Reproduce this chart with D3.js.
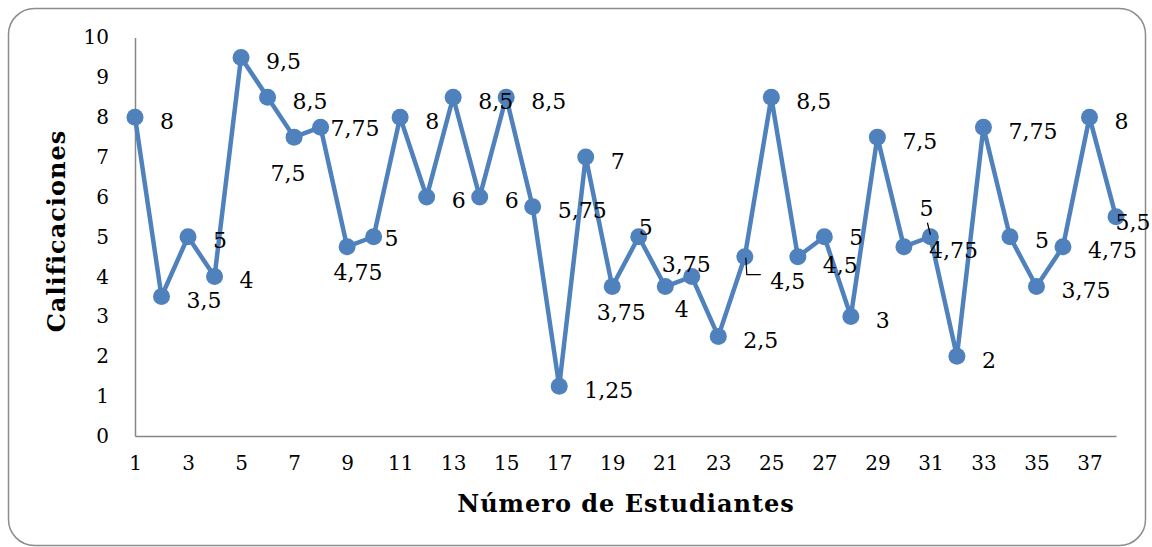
<!DOCTYPE html>
<html>
<head>
<meta charset="utf-8">
<script src="https://cdn.jsdelivr.net/npm/d3@7/dist/d3.min.js"></script>
<style>
  html, body { margin: 0; padding: 0; background: #fff; }
  svg { display: block; }
</style>
</head>
<body>
<svg id="chart" width="1152" height="547"></svg>
<script>
// ---- data ----
const students = d3.range(1, 39);
const grades = [8, 3.5, 5, 4, 9.5, 8.5, 7.5, 7.75, 4.75, 5,
                8, 6, 8.5, 6, 8.5, 5.75, 1.25, 7, 3.75, 5,
                3.75, 4, 2.5, 4.5, 8.5, 4.5, 5, 3, 7.5, 4.75,
                5, 2, 7.75, 5, 3.75, 4.75, 8, 5.5];
const yTicks = [0, 1, 2, 3, 4, 5, 6, 7, 8, 9, 10];
const xTickLabels = students.filter(d => d % 2 === 1);
const xTitle = "Número de Estudiantes";
const yTitle = "Calificaciones";

// ---- label placement (layout, not data): index -> custom placement ----
const labelCustom = {
  7:  {anchor: "middle", dx: -6, dy: 36},
  8:  {anchor: "start",  dx: 10, dy: 1},
  9:  {anchor: "middle", dx: 11, dy: 26},
  10: {anchor: "start",  dx: 11, dy: 2},
  19: {anchor: "middle", dx: 9,  dy: 26},
  20: {anchor: "middle", dx: 7,  dy: -9},
  21: {anchor: "middle", dx: 21, dy: -22},
  22: {anchor: "middle", dx: -10, dy: 33},
  24: {anchor: "middle", dx: 43, dy: 25, leader: [[1, 1], [2, 18], [16, 18]]},
  26: {anchor: "start",  dx: 25, dy: 9},
  27: {anchor: "start",  dx: 25, dy: 1},
  31: {anchor: "middle", dx: -4, dy: -28, leader: [[-3, -14], [0, -2]]},
  38: {anchor: "middle", dx: 17, dy: 6}
};

const FONT = "'DejaVu Serif', 'Liberation Serif', serif";
const svg = d3.select("#chart");

// frame
svg.append("rect")
  .attr("x", 8.5).attr("y", 8.5)
  .attr("width", 1137).attr("height", 537)
  .attr("rx", 26).attr("ry", 26)
  .attr("fill", "#fff").attr("stroke", "#8c8c8c").attr("stroke-width", 1.5);

const x = d3.scalePoint().domain(students).range([135, 1116]);
const y = d3.scaleLinear().domain([0, 10]).range([436, 37.5]);

// axes
const yAxis = d3.axisLeft(y).tickValues(yTicks).tickSize(0).tickPadding(26);
const gy = svg.append("g").attr("transform", `translate(${x(1)},0)`).call(yAxis);
gy.select(".domain").attr("stroke", "#868686").attr("stroke-width", 1.5);
gy.selectAll("text").attr("font-family", FONT).attr("font-size", 20).attr("fill", "#000");

const xAxis = d3.axisBottom(x).tickValues(xTickLabels).tickSize(0).tickPadding(20);
const gx = svg.append("g").attr("transform", `translate(0,${y(0)})`).call(xAxis);
gx.select(".domain").attr("stroke", "#868686").attr("stroke-width", 1.5);
gx.selectAll("text").attr("font-family", FONT).attr("font-size", 20).attr("fill", "#000");

// line
const line = d3.line().x((d, i) => x(students[i])).y(d => y(d));
svg.append("path")
  .datum(grades)
  .attr("d", line)
  .attr("fill", "none")
  .attr("stroke", "#4F81BD")
  .attr("stroke-width", 4.5)
  .attr("stroke-linejoin", "round");

// markers
svg.append("g").selectAll("circle")
  .data(grades)
  .join("circle")
  .attr("cx", (d, i) => x(students[i]))
  .attr("cy", d => y(d))
  .attr("r", 8.5)
  .attr("fill", "#4F81BD");

// data labels
const fmt = v => String(v).replace(".", ",");
const lg = svg.append("g");
grades.forEach((v, i) => {
  const n = students[i];
  const px = x(n), py = y(v);
  const c = labelCustom[n] || {anchor: "start", dx: 25, dy: 4};
  lg.append("text")
    .attr("x", px + c.dx)
    .attr("y", py + c.dy)
    .attr("text-anchor", c.anchor)
    .attr("dominant-baseline", "central")
    .attr("font-family", FONT)
    .attr("font-size", 22)
    .attr("fill", "#000")
    .text(fmt(v));
  if (c.leader) {
    lg.append("path")
      .attr("d", d3.line()(c.leader.map(p => [px + p[0], py + p[1]])))
      .attr("fill", "none")
      .attr("stroke", "#000")
      .attr("stroke-width", 1.2);
  }
});

// titles
svg.append("text")
  .attr("x", 626).attr("y", 503)
  .attr("text-anchor", "middle")
  .attr("dominant-baseline", "central")
  .attr("font-family", FONT)
  .attr("font-weight", "bold")
  .attr("font-size", 24)
  .attr("letter-spacing", 1)
  .text(xTitle);

svg.append("text")
  .attr("transform", "translate(56,231) rotate(-90)")
  .attr("text-anchor", "middle")
  .attr("dominant-baseline", "central")
  .attr("font-family", FONT)
  .attr("font-weight", "bold")
  .attr("font-size", 24)
  .attr("letter-spacing", 1)
  .text(yTitle);
</script>
</body>
</html>
